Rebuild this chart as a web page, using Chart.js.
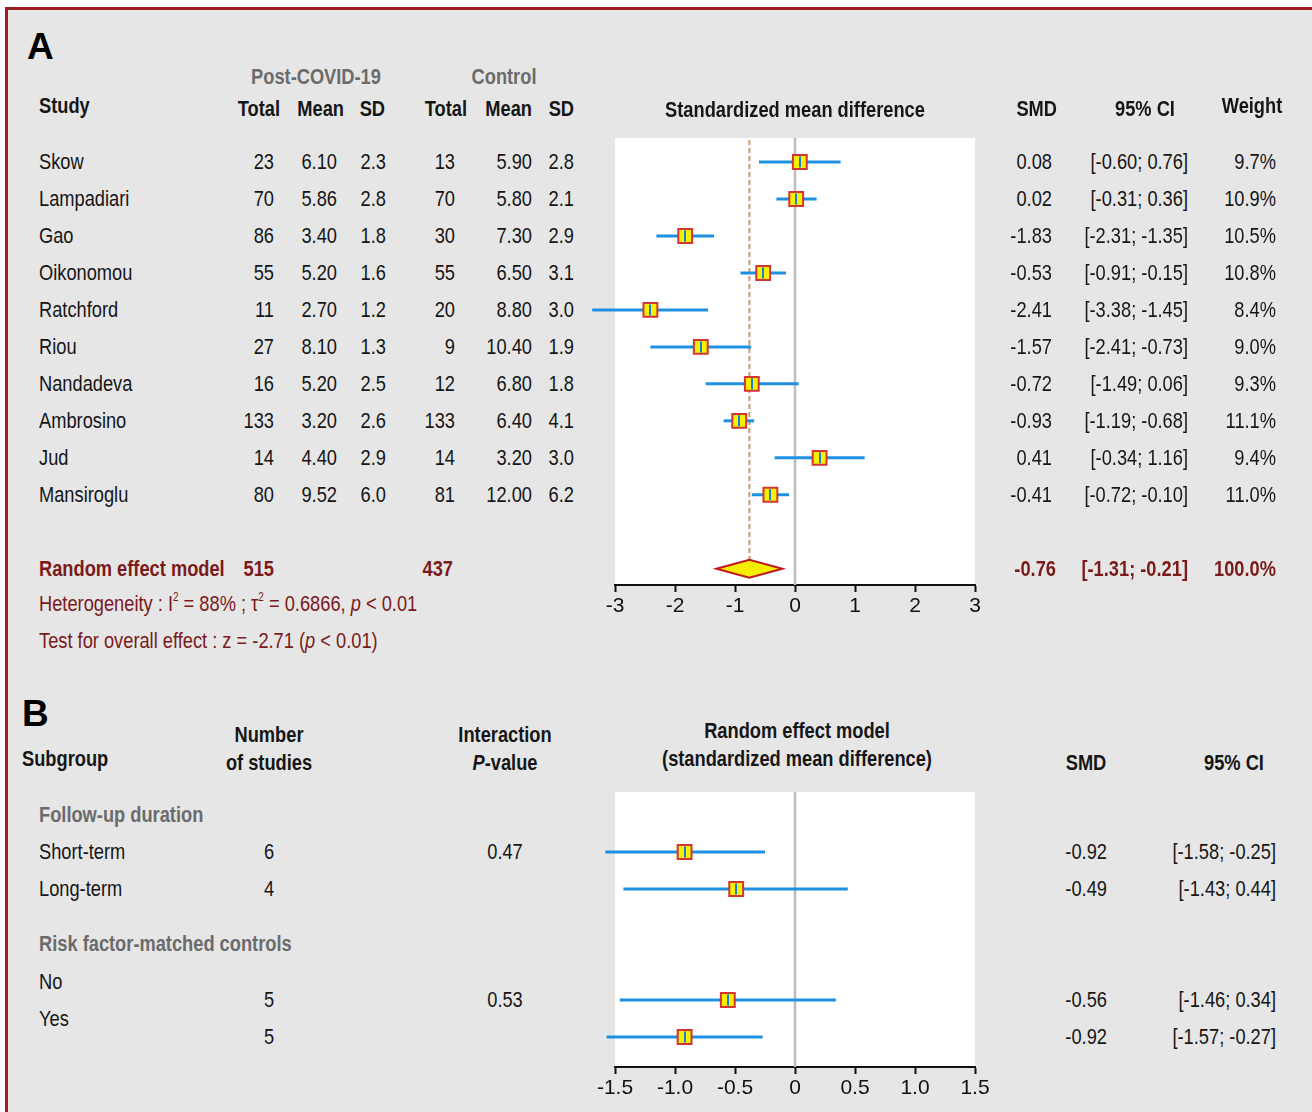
<!DOCTYPE html>
<html><head><meta charset="utf-8">
<script src="https://cdn.jsdelivr.net/npm/chart.js@4/dist/chart.umd.min.js"></script>
<style>
html,body{margin:0;padding:0;background:#fff;}
body{width:1312px;height:1112px;position:relative;overflow:hidden;font-family:"Liberation Sans",Arial,sans-serif;}
#frame{position:absolute;left:5px;top:7px;width:1400px;height:1200px;background:#e6e6e6;border:3px solid #9d1c22;box-sizing:border-box;}
.t{position:absolute;white-space:nowrap;font-size:22px;line-height:26px;color:#161616;}
.b{font-weight:bold;}
.g{color:#6b6b6b;font-weight:bold;}
.r{color:#7b1a1a;}
.big{font-weight:bold;font-size:37px;line-height:40px;color:#000;}
sup{font-size:12px;vertical-align:10px;line-height:0;}
canvas{position:absolute;}
</style></head>
<body>
<div id="frame"></div>
<canvas id="cA" width="440" height="512" style="left:575px;top:118px;width:440px;height:512px"></canvas>
<canvas id="cB" width="440" height="340" style="left:575px;top:772px;width:440px;height:340px"></canvas>
<div id="txt"></div>
<script>
// ---------- Panel A data ----------
const studies   = ['Skow','Lampadiari','Gao','Oikonomou','Ratchford','Riou','Nandadeva','Ambrosino','Jud','Mansiroglu'];
const postTotal = [23,70,86,55,11,27,16,133,14,80];
const postMean  = [6.10,5.86,3.40,5.20,2.70,8.10,5.20,3.20,4.40,9.52];
const postSD    = [2.3,2.8,1.8,1.6,1.2,1.3,2.5,2.6,2.9,6.0];
const ctrlTotal = [13,70,30,55,20,9,12,133,14,81];
const ctrlMean  = [5.90,5.80,7.30,6.50,8.80,10.40,6.80,6.40,3.20,12.00];
const ctrlSD    = [2.8,2.1,2.9,3.1,3.0,1.9,1.8,4.1,3.0,6.2];
const smdA      = [0.08,0.02,-1.83,-0.53,-2.41,-1.57,-0.72,-0.93,0.41,-0.41];
const lowA      = [-0.60,-0.31,-2.31,-0.91,-3.38,-2.41,-1.49,-1.19,-0.34,-0.72];
const highA     = [0.76,0.36,-1.35,-0.15,-1.45,-0.73,0.06,-0.68,1.16,-0.10];
const weightA   = ['9.7%','10.9%','10.5%','10.8%','8.4%','9.0%','9.3%','11.1%','9.4%','11.0%'];
const pooledPost = 515, pooledCtrl = 437;
const pooledSMD = -0.76, pooledLow = -1.31, pooledHigh = -0.21, pooledWeight = '100.0%';
const ticksA = [-3,-2,-1,0,1,2,3];
const tickLabelsA = ['-3','-2','-1','0','1','2','3'];

// ---------- Panel B data ----------
const subgroups    = ['Short-term','Long-term','No','Yes'];
const groupHeads   = ['Follow-up duration','Risk factor-matched controls'];
const nStudies     = [6,4,5,5];
const interactionP = ['0.47','0.53'];
const smdB  = [-0.92,-0.49,-0.56,-0.92];
const lowB  = [-1.58,-1.43,-1.46,-1.57];
const highB = [-0.25,0.44,0.34,-0.27];
const ticksB = [-1.5,-1.0,-0.5,0,0.5,1.0,1.5];
const tickLabelsB = ['-1.5','-1.0','-0.5','0','0.5','1.0','1.5'];

const FONT = "'Liberation Sans',Arial,sans-serif";
const BLUE = '#1e8fe1';
const SX = 0.83;

const forest = {
  id:'forest',
  beforeDraw(chart){
    const {ctx,chartArea:a}=chart;
    ctx.save(); ctx.fillStyle='#fff'; ctx.fillRect(a.left,a.top,a.right-a.left,a.bottom-a.top); ctx.restore();
  },
  beforeDatasetsDraw(chart,args,o){
    const {ctx,chartArea:a,scales:{x,y}}=chart;
    ctx.save();
    const x0=x.getPixelForValue(0);
    ctx.strokeStyle='#bcbcbc'; ctx.lineWidth=2.5;
    ctx.beginPath(); ctx.moveTo(x0,a.top); ctx.lineTo(x0,a.bottom); ctx.stroke();
    if(o.pooled){
      const px=x.getPixelForValue(o.pooled.est), py=y.getPixelForValue(o.pooled.row);
      ctx.setLineDash([5,3]); ctx.strokeStyle='#c89c6a'; ctx.lineWidth=2;
      ctx.beginPath(); ctx.moveTo(px,a.top+2); ctx.lineTo(px,py-9); ctx.stroke(); ctx.setLineDash([]);
      ctx.beginPath();
      ctx.moveTo(x.getPixelForValue(o.pooled.lo),py); ctx.lineTo(px,py-9);
      ctx.lineTo(x.getPixelForValue(o.pooled.hi),py); ctx.lineTo(px,py+9); ctx.closePath();
      ctx.fillStyle='#f6ee00'; ctx.fill(); ctx.strokeStyle='#c3161c'; ctx.lineWidth=2; ctx.stroke();
    }
    ctx.strokeStyle=BLUE; ctx.lineWidth=3;
    o.low.forEach((lo,i)=>{
      const py=y.getPixelForValue(o.rows[i]);
      ctx.beginPath(); ctx.moveTo(x.getPixelForValue(lo),py); ctx.lineTo(x.getPixelForValue(o.high[i]),py); ctx.stroke();
    });
    ctx.restore();
  },
  afterDatasetsDraw(chart,args,o){
    const {ctx,scales:{x,y}}=chart;
    ctx.save(); ctx.strokeStyle='#1a80d8'; ctx.lineWidth=2;
    o.est.forEach((v,i)=>{
      const px=Math.round(x.getPixelForValue(v)), py=y.getPixelForValue(o.rows[i]);
      ctx.beginPath(); ctx.moveTo(px,py-5.5); ctx.lineTo(px,py+5.5); ctx.stroke();
    });
    ctx.restore();
  }
};

function makeChart(id, est, low, high, rows, ymin, ymax, ticks, labels, pooled){
  return new Chart(document.getElementById(id), {
    type:'scatter',
    data:{datasets:[{
      data: est.map((v,i)=>({x:v,y:rows[i]})),
      pointStyle:'rect', pointRadius:9.8, pointHoverRadius:9.8,
      backgroundColor:'#f6f000', borderColor:'#d43434', borderWidth:2, clip:false
    }]},
    options:{
      responsive:false, animation:false, devicePixelRatio:1,
      layout:{padding:{left:40,right:40,top:20,bottom:5}},
      plugins:{legend:{display:false},tooltip:{enabled:false},
        forest:{est,low,high,rows,pooled}},
      events:[],
      scales:{
        x:{type:'linear',min:ticks[0],max:ticks[ticks.length-1],
          afterBuildTicks:s=>{s.ticks=ticks.map(v=>({value:v}));},
          afterFit:s=>{s.height=40;},
          ticks:{color:'#111',padding:2,font:{family:FONT,size:21},callback:(v,i)=>labels[i]},
          grid:{drawOnChartArea:false,drawTicks:true,tickLength:7,color:'#111',tickWidth:2},
          border:{display:true,color:'#111',width:2}},
        y:{type:'linear',display:false,reverse:true,min:ymin,max:ymax}
      }
    },
    plugins:[forest]
  });
}

const rowsA = studies.map((_,i)=>i);
const pooledRow = studies.length+1;
const chartA = makeChart('cA', smdA, lowA, highA, rowsA, -0.65, 11.44, ticksA, tickLabelsA,
  {est:pooledSMD, lo:pooledLow, hi:pooledHigh, row:pooledRow});
const rowsB = [0,1,4,5];
const chartB = makeChart('cB', smdB, lowB, highB, rowsB, -1.62, 5.81, ticksB, tickLabelsB, null);

// ---------- text ----------
const layer=document.getElementById('txt');
function put(html,x,y,align,cls,noScale){
  const d=document.createElement('div');
  d.className='t '+(cls||''); d.innerHTML=html;
  d.style.left=x+'px'; d.style.top=y+'px';
  const tx=align==='r'?'-100%':align==='c'?'-50%':'0';
  const ox=align==='r'?'right':align==='c'?'center':'left';
  d.style.transformOrigin=ox+' center';
  d.style.transform='translate('+tx+',-50%)'+(noScale?'':' scaleX('+SX+')');
  layer.appendChild(d);
}
const yA=i=>chartA.scales.y.getPixelForValue(i)+118;
const yB=i=>chartB.scales.y.getPixelForValue(i)+772;
const ci=(l,h)=>'['+l.toFixed(2)+'; '+h.toFixed(2)+']';

put('A',27,47,'l','big',true);
put('Post-COVID-19',316,77,'c','g');
put('Control',504,77,'c','g');
put('Study',39,106,'l','b');
put('Total',280,109,'r','b'); put('Mean',344,109,'r','b'); put('SD',385,109,'r','b');
put('Total',467,109,'r','b'); put('Mean',532,109,'r','b'); put('SD',574,109,'r','b');
put('Standardized mean difference',795,110,'c','b');
put('SMD',1057,109,'r','b'); put('95% CI',1145,109,'c','b'); put('Weight',1252,106,'c','b');

studies.forEach((s,i)=>{
  const y=yA(i);
  put(s,39,y,'l');
  put(String(postTotal[i]),274,y,'r'); put(postMean[i].toFixed(2),337,y,'r'); put(postSD[i].toFixed(1),386,y,'r');
  put(String(ctrlTotal[i]),455,y,'r'); put(ctrlMean[i].toFixed(2),532,y,'r'); put(ctrlSD[i].toFixed(1),574,y,'r');
  put(smdA[i].toFixed(2),1052,y,'r'); put(ci(lowA[i],highA[i]),1188,y,'r'); put(weightA[i],1276,y,'r');
});
const yp=yA(pooledRow);
put('Random effect model',39,yp,'l','b r');
put(String(pooledPost),274,yp,'r','b r'); put(String(pooledCtrl),453,yp,'r','b r');
put(pooledSMD.toFixed(2),1056,yp,'r','b r'); put(ci(pooledLow,pooledHigh),1188,yp,'r','b r'); put(pooledWeight,1276,yp,'r','b r');
put('Heterogeneity : I<sup>2</sup> = 88% ; &tau;<sup>2</sup> = 0.6866, <i>p</i> &lt; 0.01',39,604,'l','r');
put('Test for overall effect : z = -2.71 (<i>p</i> &lt; 0.01)',39,641,'l','r');

put('B',22,714,'l','big',true);
put('Subgroup',22,759,'l','b');
put('Number',269,735,'c','b'); put('of studies',269,763,'c','b');
put('Interaction',505,735,'c','b'); put('<i>P</i>-value',505,763,'c','b');
put('Random effect model',797,731,'c','b'); put('(standardized mean difference)',797,759,'c','b');
put('SMD',1086,763,'c','b'); put('95% CI',1234,763,'c','b');
put(groupHeads[0],39,yB(-1),'l','g');
put(groupHeads[1],39,yB(2.5),'l','g');
const labelRowsB=[0,1,3.5,4.5];
subgroups.forEach((s,i)=>put(s,39,yB(labelRowsB[i]),'l'));
rowsB.forEach((r,i)=>{
  const y=yB(r);
  put(String(nStudies[i]),269,y,'c');
  put(smdB[i].toFixed(2),1107,y,'r');
  put(ci(lowB[i],highB[i]),1276,y,'r');
});
put(interactionP[0],505,yB(0),'c');
put(interactionP[1],505,yB(4),'c');
</script>
</body></html>
